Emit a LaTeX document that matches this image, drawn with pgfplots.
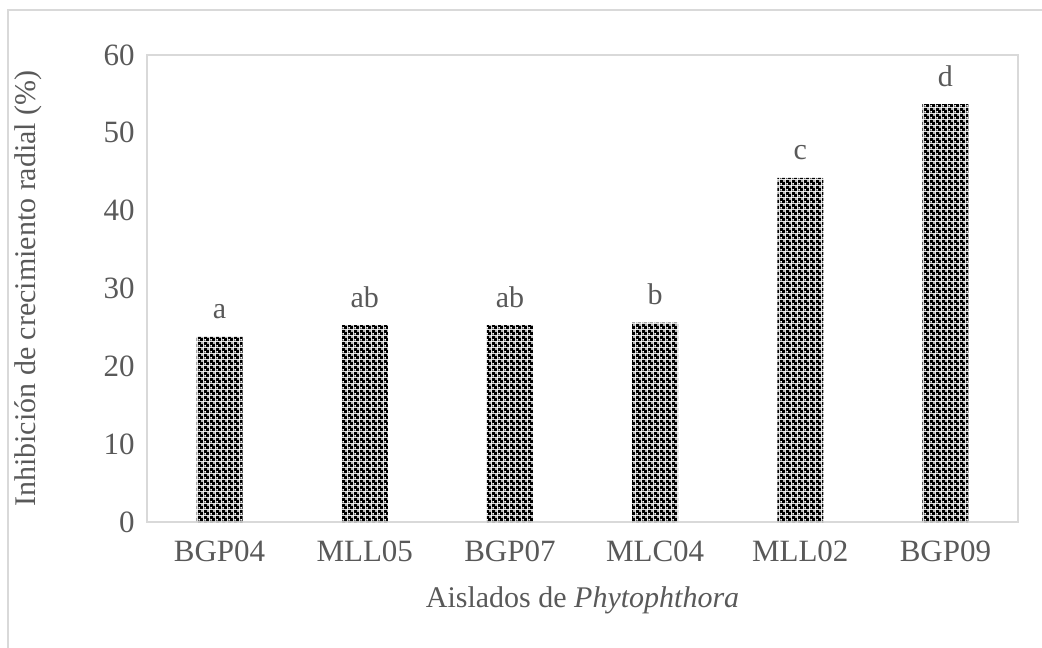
\documentclass[border=0pt]{standalone}
\usepackage{pgfplots}
\pgfplotsset{compat=1.18}
\usepackage{fontspec}
\setmainfont{Liberation Serif}
\usetikzlibrary{patterns}
\definecolor{axisgrey}{HTML}{D9D9D9}
\definecolor{txt}{HTML}{595959}
\pgfdeclarepatternformonly{checker}{\pgfqpoint{0pt}{0pt}}{\pgfqpoint{3pt}{3pt}}{\pgfqpoint{3pt}{3pt}}{%
  \pgfpathrectangle{\pgfqpoint{0pt}{0pt}}{\pgfqpoint{3pt}{3pt}}%
  \pgfpathrectangle{\pgfqpoint{0.25pt}{0.25pt}}{\pgfqpoint{1.05pt}{1.05pt}}%
  \pgfpathrectangle{\pgfqpoint{1.75pt}{1.75pt}}{\pgfqpoint{1.05pt}{1.05pt}}%
  \pgfseteorule
  \pgfusepath{fill}}
\begin{document}
\begin{tikzpicture}[x=1pt,y=1pt]
\useasboundingbox (0,0) rectangle (521,323.5);
\draw[axisgrey, line width=0.75pt] (4,-20) rectangle (560,318.5);
\begin{axis}[
  at={(73.5pt,62.5pt)}, anchor=south west,
  width=435.5pt, height=233.5pt, scale only axis,
  xmin=-0.5, xmax=5.5, ymin=0, ymax=60,
  xtick={0,1,2,3,4,5},
  xticklabels={BGP04,MLL05,BGP07,MLC04,MLL02,BGP09},
  ytick={0,10,20,30,40,50,60},
  major tick length=0pt,
  axis line style={draw=axisgrey, line width=0.75pt},
  tick label style={text=txt, font=\fontsize{15.5}{18}\selectfont},
  yticklabel style={anchor=east, inner sep=0pt, xshift=-6pt},
  xticklabel style={anchor=north, inner sep=0pt, yshift=-9pt},
  /pgf/number format/assume math mode=true,
  label style={text=txt, font=\fontsize{15}{18}\selectfont},
  xlabel={Aislados de \textit{Phytophthora}},
  ylabel={Inhibición de crecimiento radial (\%)},
  xlabel style={at={(axis description cs:0.5,-0.167)}, anchor=center},
  ylabel style={at={(axis description cs:-0.1366,0.5)}, anchor=center},
  clip=false,
]
\addplot[ybar, bar width=23pt, draw=none, pattern=checker, pattern color=black,
  nodes near coords, point meta=explicit symbolic,
  nodes near coords style={text=txt, font=\fontsize{15}{18}\selectfont, anchor=base, inner sep=0pt, yshift=9pt}]
  coordinates {(0,23.8)[a] (1,25.3)[ab] (2,25.3)[ab] (3,25.6)[b] (4,44.2)[c] (5,53.7)[d]};
\end{axis}
\end{tikzpicture}
\end{document}
